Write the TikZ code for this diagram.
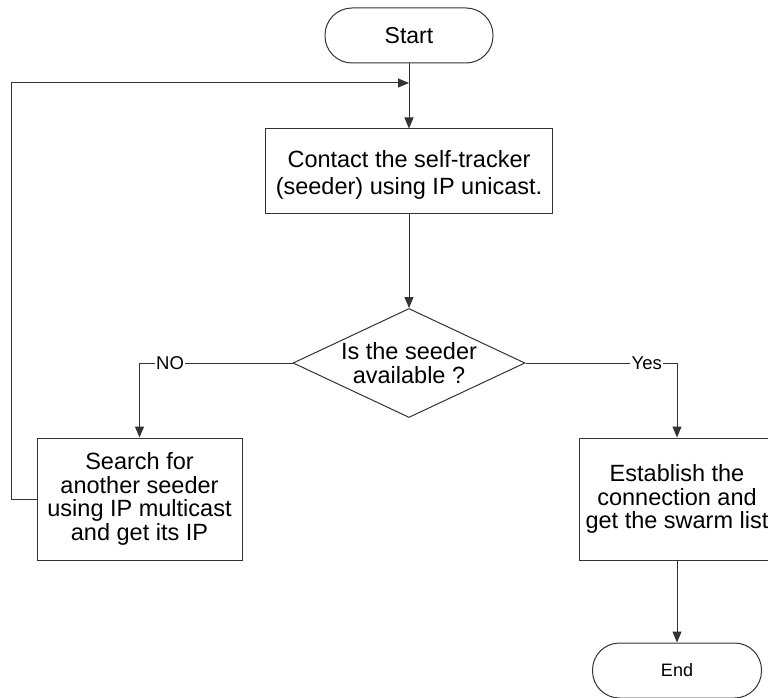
\documentclass[tikz,border=0pt]{standalone}
\usepackage{fontspec}
\setmainfont{Liberation Sans}
\usetikzlibrary{arrows.meta,shapes.geometric}
\begin{document}
\begin{tikzpicture}[x=1pt,y=-1pt,
  line/.style={draw=black!80, line width=1pt},
  arrow/.style={line, -{Triangle[width=9pt,length=11pt]}},
  terminal/.style={line, rectangle, rounded corners=27pt, minimum width=168pt,
    minimum height=55pt, inner sep=0pt},
  process/.style={line, rectangle, inner sep=0pt, align=center,
    font=\fontsize{23.5}{23.5}\selectfont},
  decision/.style={line, diamond, inner sep=0pt, minimum width=232pt,
    minimum height=109pt},
  caption/.style={align=center, inner sep=0pt},
  lbl/.style={fill=white, inner sep=1.5pt, font=\fontsize{18.5}{20}\selectfont}]
\useasboundingbox (0,0) rectangle (768,698);
\clip (0,0) rectangle (768,698);
\fill[white] (0,0) rectangle (768,698);

% terminals, steps and the decision
\node[terminal, font=\fontsize{23}{25}\selectfont] (start) at (409,35.5) {Start};
\node[process, minimum width=287pt, minimum height=84pt] (contact) at (409,171) {};
\node[caption, font=\fontsize{23.5}{27.3}\selectfont] (contacttext) at (409,175)
  {Contact the self-tracker\\(seeder) using IP unicast.};
\node[decision] (dec) at (409,363) {};
\node[caption, font=\fontsize{23.5}{23.5}\selectfont] (dectext)
  at (dec) {Is the seeder\\available ?};
\node[process, minimum width=205pt, minimum height=122pt] (search) at (139.5,499)
  {Search for\\another seeder\\using IP multicast\\and get its IP};
\node[process, minimum width=196pt, minimum height=122pt] (establish) at (677,499)
  {Establish the\\connection and\\get the swarm list};
\node[terminal, minimum width=169pt, font=\fontsize{18}{20}\selectfont] (end) at (677,670.5) {End};

% connectors
\coordinate (loopin) at (409,83);
\draw[arrow] (start) -- (contact);
\draw[arrow] (search.west) -- ++(-25,0) |- (loopin);
\draw[arrow] (contact) -- (dec.north);
\draw[arrow] (dec.west) -- node[lbl, pos=0.8] {NO} (dec.west -| search.north) -- (search.north);
\draw[arrow] (dec.east) -- node[lbl, pos=0.8] {Yes} (dec.east -| establish.north) -- (establish.north);
\draw[arrow] (establish) -- (end);
\end{tikzpicture}
\end{document}
